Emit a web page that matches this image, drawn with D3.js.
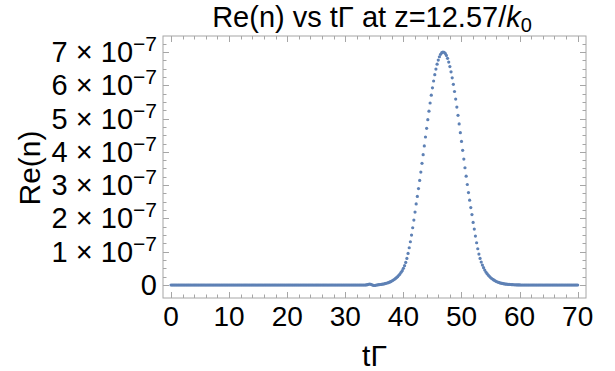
<!DOCTYPE html>
<html><head><meta charset="utf-8">
<script src="https://cdn.jsdelivr.net/npm/d3@7"></script>
<style>body{margin:0;background:#fff}svg{display:block}text{font-family:"Liberation Sans",Arial,sans-serif;fill:#000}</style>
</head><body><svg id="c" width="615" height="371"></svg>
<script>
// time grid: t = i * tStep, i = 0..350
const tStep = 0.2;
// Re(n) in units of 1e-7
const reN = [
0,0,0,0,0,0,0,0,0,0,0,0,0,0,0,0,0,0,0,0,
0,0,0,0,0,0,0,0,0,0,0,0,0,0,0,0,0,0,0,0,
0,0,0,0,0,0,0,0,0,0,0,0,0,0,0,0,0,0,0,0,
0,0,0,0,0,0,0,0,0,0,0,0,0,0,0,0,0,0,0,0,
0,0,0,0,0,0,0,0,0,0,0,0,0,0,0,0,0,0,0,0,
0,0,0,0,0,0,0,0,0,0,0,0,0,0,0,0,0,0,0,0,
0,0,0,0,0,0,0,0,0,0,0,0,0,0,0,0,0,0,0,0,
0,0,0,0,0,0,0,0,0,0,0,0,0,0,0,0,0,0,0,0,
0,0,0,0,0,0,0,0,
0.003,0.01,0.02,0.03,0.02,0.005,-0.01,-0.015,-0.008,0.0,
0.005,0.01,0.015,0.02,0.025,0.03,0.04,0.05,0.06,0.07,
0.085,0.10,0.12,0.14,0.165,0.19,0.22,0.25,0.29,0.33,
0.38,0.43,0.50,0.58,0.68,0.80,0.95,1.12,1.30,1.50,
1.72,1.95,2.19,2.435,2.662,2.898,3.142,3.394,3.654,3.916,
4.179,4.446,4.707,4.968,5.222,5.468,5.702,5.923,6.129,6.317,
6.486,6.633,6.757,6.857,6.931,6.978,6.999,6.992,6.958,6.897,
6.810,6.698,6.562,6.404,6.225,6.028,5.813,5.586,5.345,5.096,
4.838,4.577,4.312,4.047,3.783,3.523,3.268,3.019,2.778,2.547,
2.326,2.116,1.88,1.68,1.47,1.27,1.09,0.93,0.80,0.69,
0.60,0.52,0.45,0.39,0.34,0.30,0.26,0.225,0.195,0.17,
0.145,0.125,0.105,0.09,0.077,0.065,0.055,0.047,0.04,0.034,
0.029,0.025,0.021,0.018,0.015,0.012,0.01,0.008,0.006,0.005,
0.004,0.003,0.002,0.001,
0,0,0,0,0,0,0,0,0,0,0,0,0,0,0,0,0,0,0,0,
0,0,0,0,0,0,0,0,0,0,0,0,0,0,0,0,0,0,0,0,
0,0,0,0,0,0,0,0,0
];
const xTicks = [0,10,20,30,40,50,60,70];
const yTicks = [0,1,2,3,4,5,6,7];
const yTickMantissa = ["0","1","2","3","4","5","6","7"];
const yExponent = "\u22127";
const titleText = "Re(n) vs t\u0393 at z=12.57/";
const xLabel = "t\u0393";
const yLabel = "Re(n)";

const svg = d3.select("#c");
const L = 163, R = 586, T = 36, B = 298;
const x = d3.scaleLinear().domain([-1.38, 71.43]).range([L, R]);
const y = d3.scaleLinear().domain([-0.39, 7.48]).range([B, T]);
const frameCol = "#a6a6a6";

// frame
svg.append("rect").attr("x", L).attr("y", T).attr("width", R - L).attr("height", B - T)
  .attr("fill", "none").attr("stroke", frameCol).attr("stroke-width", 1);

// ticks (inside, all four sides)
const xMinor = d3.range(0, 71, 2).filter(v => v % 10 !== 0);
const yMinor = d3.range(0, 7.3, 0.25).filter(v => Math.abs(v - Math.round(v)) > 1e-6);
const tk = svg.append("g").attr("stroke", frameCol).attr("stroke-width", 1);
function xt(vals, len) {
  vals.forEach(v => {
    const px = Math.round(x(v)) + 0.5;
    tk.append("line").attr("x1", px).attr("x2", px).attr("y1", B).attr("y2", B - len);
    tk.append("line").attr("x1", px).attr("x2", px).attr("y1", T).attr("y2", T + len);
  });
}
function yt(vals, len) {
  vals.forEach(v => {
    const py = Math.round(y(v)) + 0.5;
    tk.append("line").attr("y1", py).attr("y2", py).attr("x1", L).attr("x2", L + len);
    tk.append("line").attr("y1", py).attr("y2", py).attr("x1", R).attr("x2", R - len);
  });
}
xt(xTicks, 6); xt(xMinor, 3.5);
yt(yTicks, 6); yt(yMinor, 3.5);

// x tick labels
svg.append("g").selectAll("text").data(xTicks).join("text")
  .attr("x", d => x(d)).attr("y", 326).attr("text-anchor", "middle")
  .attr("font-size", 28).text(d => d);

// y tick labels
const yl = svg.append("g").selectAll("text").data(yTicks).join("text")
  .attr("x", 157).attr("y", d => y(d) + 10).attr("text-anchor", "end").attr("font-size", 29);
yl.each(function(d, i) {
  const t = d3.select(this);
  if (d === 0) { t.text("0"); return; }
  t.append("tspan").text(yTickMantissa[i] + " \u00d7 10");
  t.append("tspan").attr("dy", -11).attr("font-size", 21).text(yExponent);
});

// points
svg.append("g").selectAll("circle").data(reN).join("circle")
  .attr("cx", (d, i) => x(i * tStep)).attr("cy", d => y(d)).attr("r", 1.6)
  .attr("fill", "#5e81b5");

// title
const tt = svg.append("text").attr("x", 372).attr("y", 27).attr("text-anchor", "middle").attr("font-size", 29);
tt.append("tspan").text(titleText);
tt.append("tspan").attr("font-style", "italic").text("k");
tt.append("tspan").attr("dy", 5).attr("font-size", 20).text("0");

// axis labels
svg.append("text").attr("x", 374.5).attr("y", 366).attr("text-anchor", "middle").attr("font-size", 30).text(xLabel);
svg.append("text").attr("transform", "translate(40,168) rotate(-90)").attr("text-anchor", "middle").attr("font-size", 30).text(yLabel);
</script></body></html>
